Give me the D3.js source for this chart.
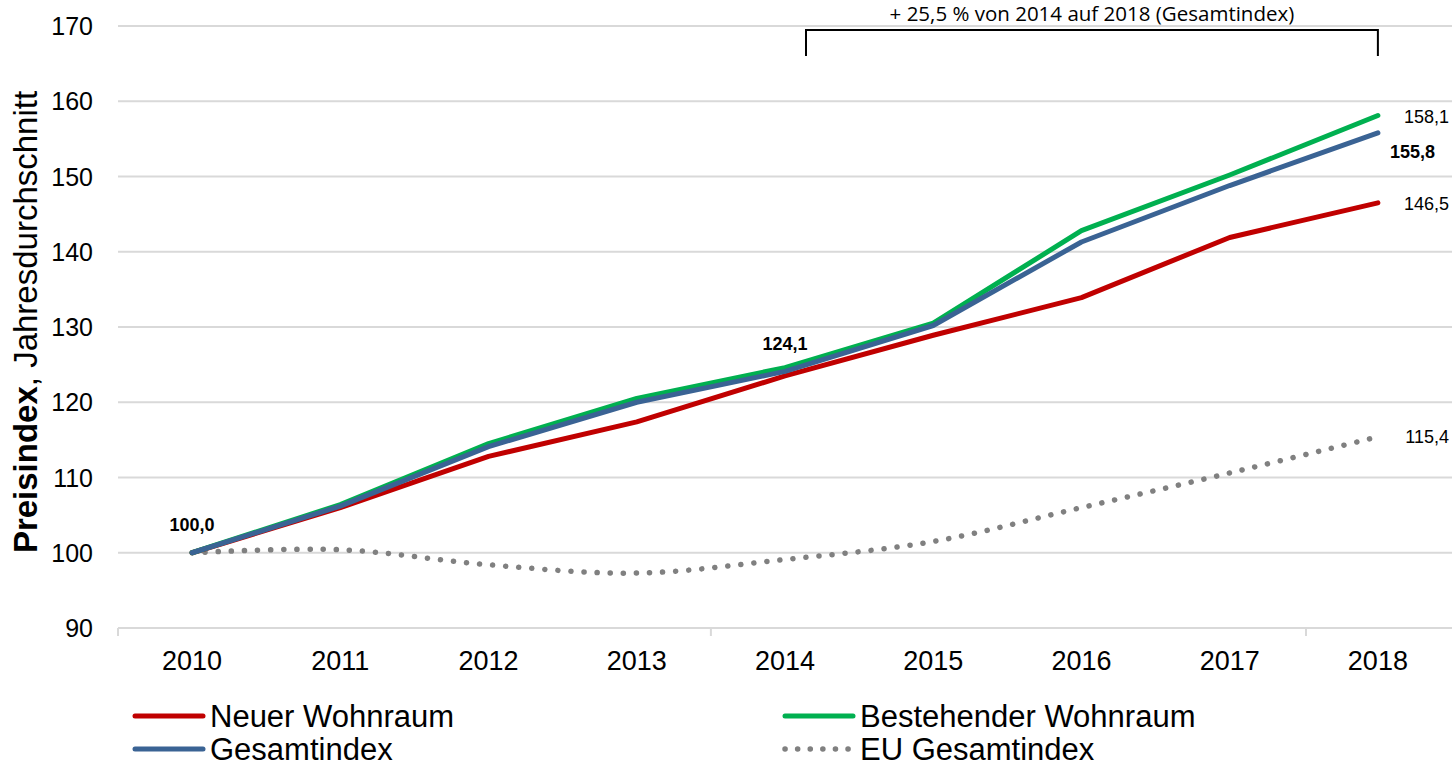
<!DOCTYPE html>
<html>
<head>
<meta charset="utf-8">
<script src="https://cdn.jsdelivr.net/npm/d3@7"></script>
<style>
  body { margin: 0; background: #fff; }
  text { font-family: "Liberation Sans", Arial, sans-serif; fill: #000; }
</style>
</head>
<body>
<script>
// chart data
var years = ["2010", "2011", "2012", "2013", "2014", "2015", "2016", "2017", "2018"];
var neuerWohnraum = [100, 106.0, 112.8, 117.4, 123.5, 128.9, 133.9, 141.9, 146.5];
var bestehenderWohnraum = [100, 106.4, 114.5, 120.5, 124.6, 130.5, 142.8, 150.2, 158.1];
var gesamtindex = [100, 106.2, 114.1, 120.0, 124.1, 130.2, 141.3, 148.8, 155.8];
var euGesamtindex = [100, 100.4, 98.4, 97.3, 99.1, 101.5, 106.0, 110.6, 115.4];
var yTicks = [90, 100, 110, 120, 130, 140, 150, 160, 170];

var width = 1453, height = 769;
var svg = d3.select("body").append("svg").attr("width", width).attr("height", height);

var x = d3.scaleBand().domain(years).range([118, 1452]);
var y = d3.scaleLinear().domain([90, 170]).range([628, 26]);
var cx = function(yr) { return x(yr) + x.bandwidth() / 2; };

// gridlines
svg.append("g").selectAll("line")
  .data(yTicks.filter(function(d) { return d > 90; }))
  .enter().append("line")
  .attr("x1", 118).attr("x2", 1452)
  .attr("y1", function(d) { return y(d); })
  .attr("y2", function(d) { return y(d); })
  .attr("stroke", "#d9d9d9").attr("stroke-width", 2);

// y axis labels
svg.append("g").selectAll("text")
  .data(yTicks).enter().append("text")
  .attr("x", 93).attr("y", function(d) { return y(d); })
  .attr("dy", "0.36em")
  .attr("text-anchor", "end")
  .style("font-size", "25px")
  .text(function(d) { return d; });

// x axis
var xAxis = svg.append("g").attr("transform", "translate(0,628)");
xAxis.append("line").attr("x1", 118).attr("x2", 1452).attr("stroke", "#d9d9d9").attr("stroke-width", 2);
xAxis.selectAll("line.tick")
  .data([years[0], years[4]]).enter().append("line")
  .attr("class", "tick")
  .attr("x1", function(d) { return x(d); }).attr("x2", function(d) { return x(d); })
  .attr("y1", 0).attr("y2", 8)
  .attr("stroke", "#d9d9d9").attr("stroke-width", 2);
xAxis.append("line").attr("x1", 1306).attr("x2", 1306).attr("y1", 0).attr("y2", 8)
  .attr("stroke", "#d9d9d9").attr("stroke-width", 2);
xAxis.selectAll("text.lbl")
  .data(years).enter().append("text")
  .attr("class", "lbl")
  .attr("x", cx).attr("y", 42)
  .attr("text-anchor", "middle")
  .style("font-size", "27px")
  .text(function(d) { return d; });

// y axis title
var yTitle = svg.append("text")
  .attr("transform", "translate(37,322) rotate(-90)")
  .attr("text-anchor", "middle")
  .style("font-size", "33px");
yTitle.append("tspan").style("font-weight", "bold").text("Preisindex");
yTitle.append("tspan").text(", Jahresdurchschnitt");

// lines
var straight = d3.line()
  .x(function(d, i) { return cx(years[i]); })
  .y(function(d) { return y(d); });
var smooth = d3.line()
  .curve(d3.curveCatmullRom.alpha(0.5))
  .x(function(d, i) { return cx(years[i]); })
  .y(function(d) { return y(d); });

var series = [
  { name: "EU Gesamtindex", values: euGesamtindex, color: "#808080", dotted: true },
  { name: "Neuer Wohnraum", values: neuerWohnraum, color: "#c00000" },
  { name: "Bestehender Wohnraum", values: bestehenderWohnraum, color: "#00b050" },
  { name: "Gesamtindex", values: gesamtindex, color: "#3a6394" }
];

series.forEach(function(s) {
  var p = svg.append("path")
    .attr("d", s.dotted ? smooth(s.values) : straight(s.values))
    .attr("fill", "none")
    .attr("stroke", s.color)
    .attr("stroke-linecap", "round")
    .attr("stroke-linejoin", "round");
  if (s.dotted) {
    p.attr("stroke-width", 5.5).attr("stroke-dasharray", "0.1 13");
  } else {
    p.attr("stroke-width", 5);
  }
});

// data labels
function label(xp, yp, txt, bold, anchor) {
  svg.append("text")
    .attr("x", xp).attr("y", yp)
    .attr("text-anchor", anchor || "middle")
    .style("font-size", "18px")
    .style("font-weight", bold ? "bold" : "normal")
    .text(txt);
}
label(cx("2010"), y(gesamtindex[0]) - 22, "100,0", true);
label(cx("2014"), y(gesamtindex[4]) - 21, "124,1", true);
label(1449, y(bestehenderWohnraum[8]) + 7, "158,1", false, "end");
label(1435, y(gesamtindex[8]) + 25, "155,8", true, "end");
label(1449, y(neuerWohnraum[8]) + 7, "146,5", false, "end");
label(1449, y(euGesamtindex[8]) + 6, "115,4", false, "end");

// bracket annotation
var bx1 = cx("2014") + 21, bx2 = cx("2018");
svg.append("path")
  .attr("d", "M" + bx1 + ",56V30H" + bx2 + "V56")
  .attr("fill", "none").attr("stroke", "#000").attr("stroke-width", 2);
svg.append("text")
  .attr("x", (bx1 + bx2) / 2).attr("y", 21)
  .attr("text-anchor", "middle")
  .style("font-family", "'Open Sans', sans-serif")
  .style("font-size", "20.5px")
  .text("+ 25,5 % von 2014 auf 2018 (Gesamtindex)");

// legend
var legendItems = [
  { s: series[1], x: 133, y: 716 },
  { s: series[2], x: 783, y: 716 },
  { s: series[3], x: 133, y: 749 },
  { s: series[0], x: 783, y: 749 }
];
legendItems.forEach(function(it) {
  var l = svg.append("line")
    .attr("x1", it.x + 2).attr("x2", it.x + 70)
    .attr("y1", it.y).attr("y2", it.y)
    .attr("stroke", it.s.color)
    .attr("stroke-linecap", "round");
  if (it.s.dotted) {
    l.attr("stroke-width", 5.5).attr("stroke-dasharray", "0.1 12.5");
  } else {
    l.attr("stroke-width", 5);
  }
  svg.append("text")
    .attr("x", it.x + 77).attr("y", it.y)
    .attr("dy", "0.36em")
    .style("font-size", "31px")
    .text(it.s.name);
});
</script>
</body>
</html>
